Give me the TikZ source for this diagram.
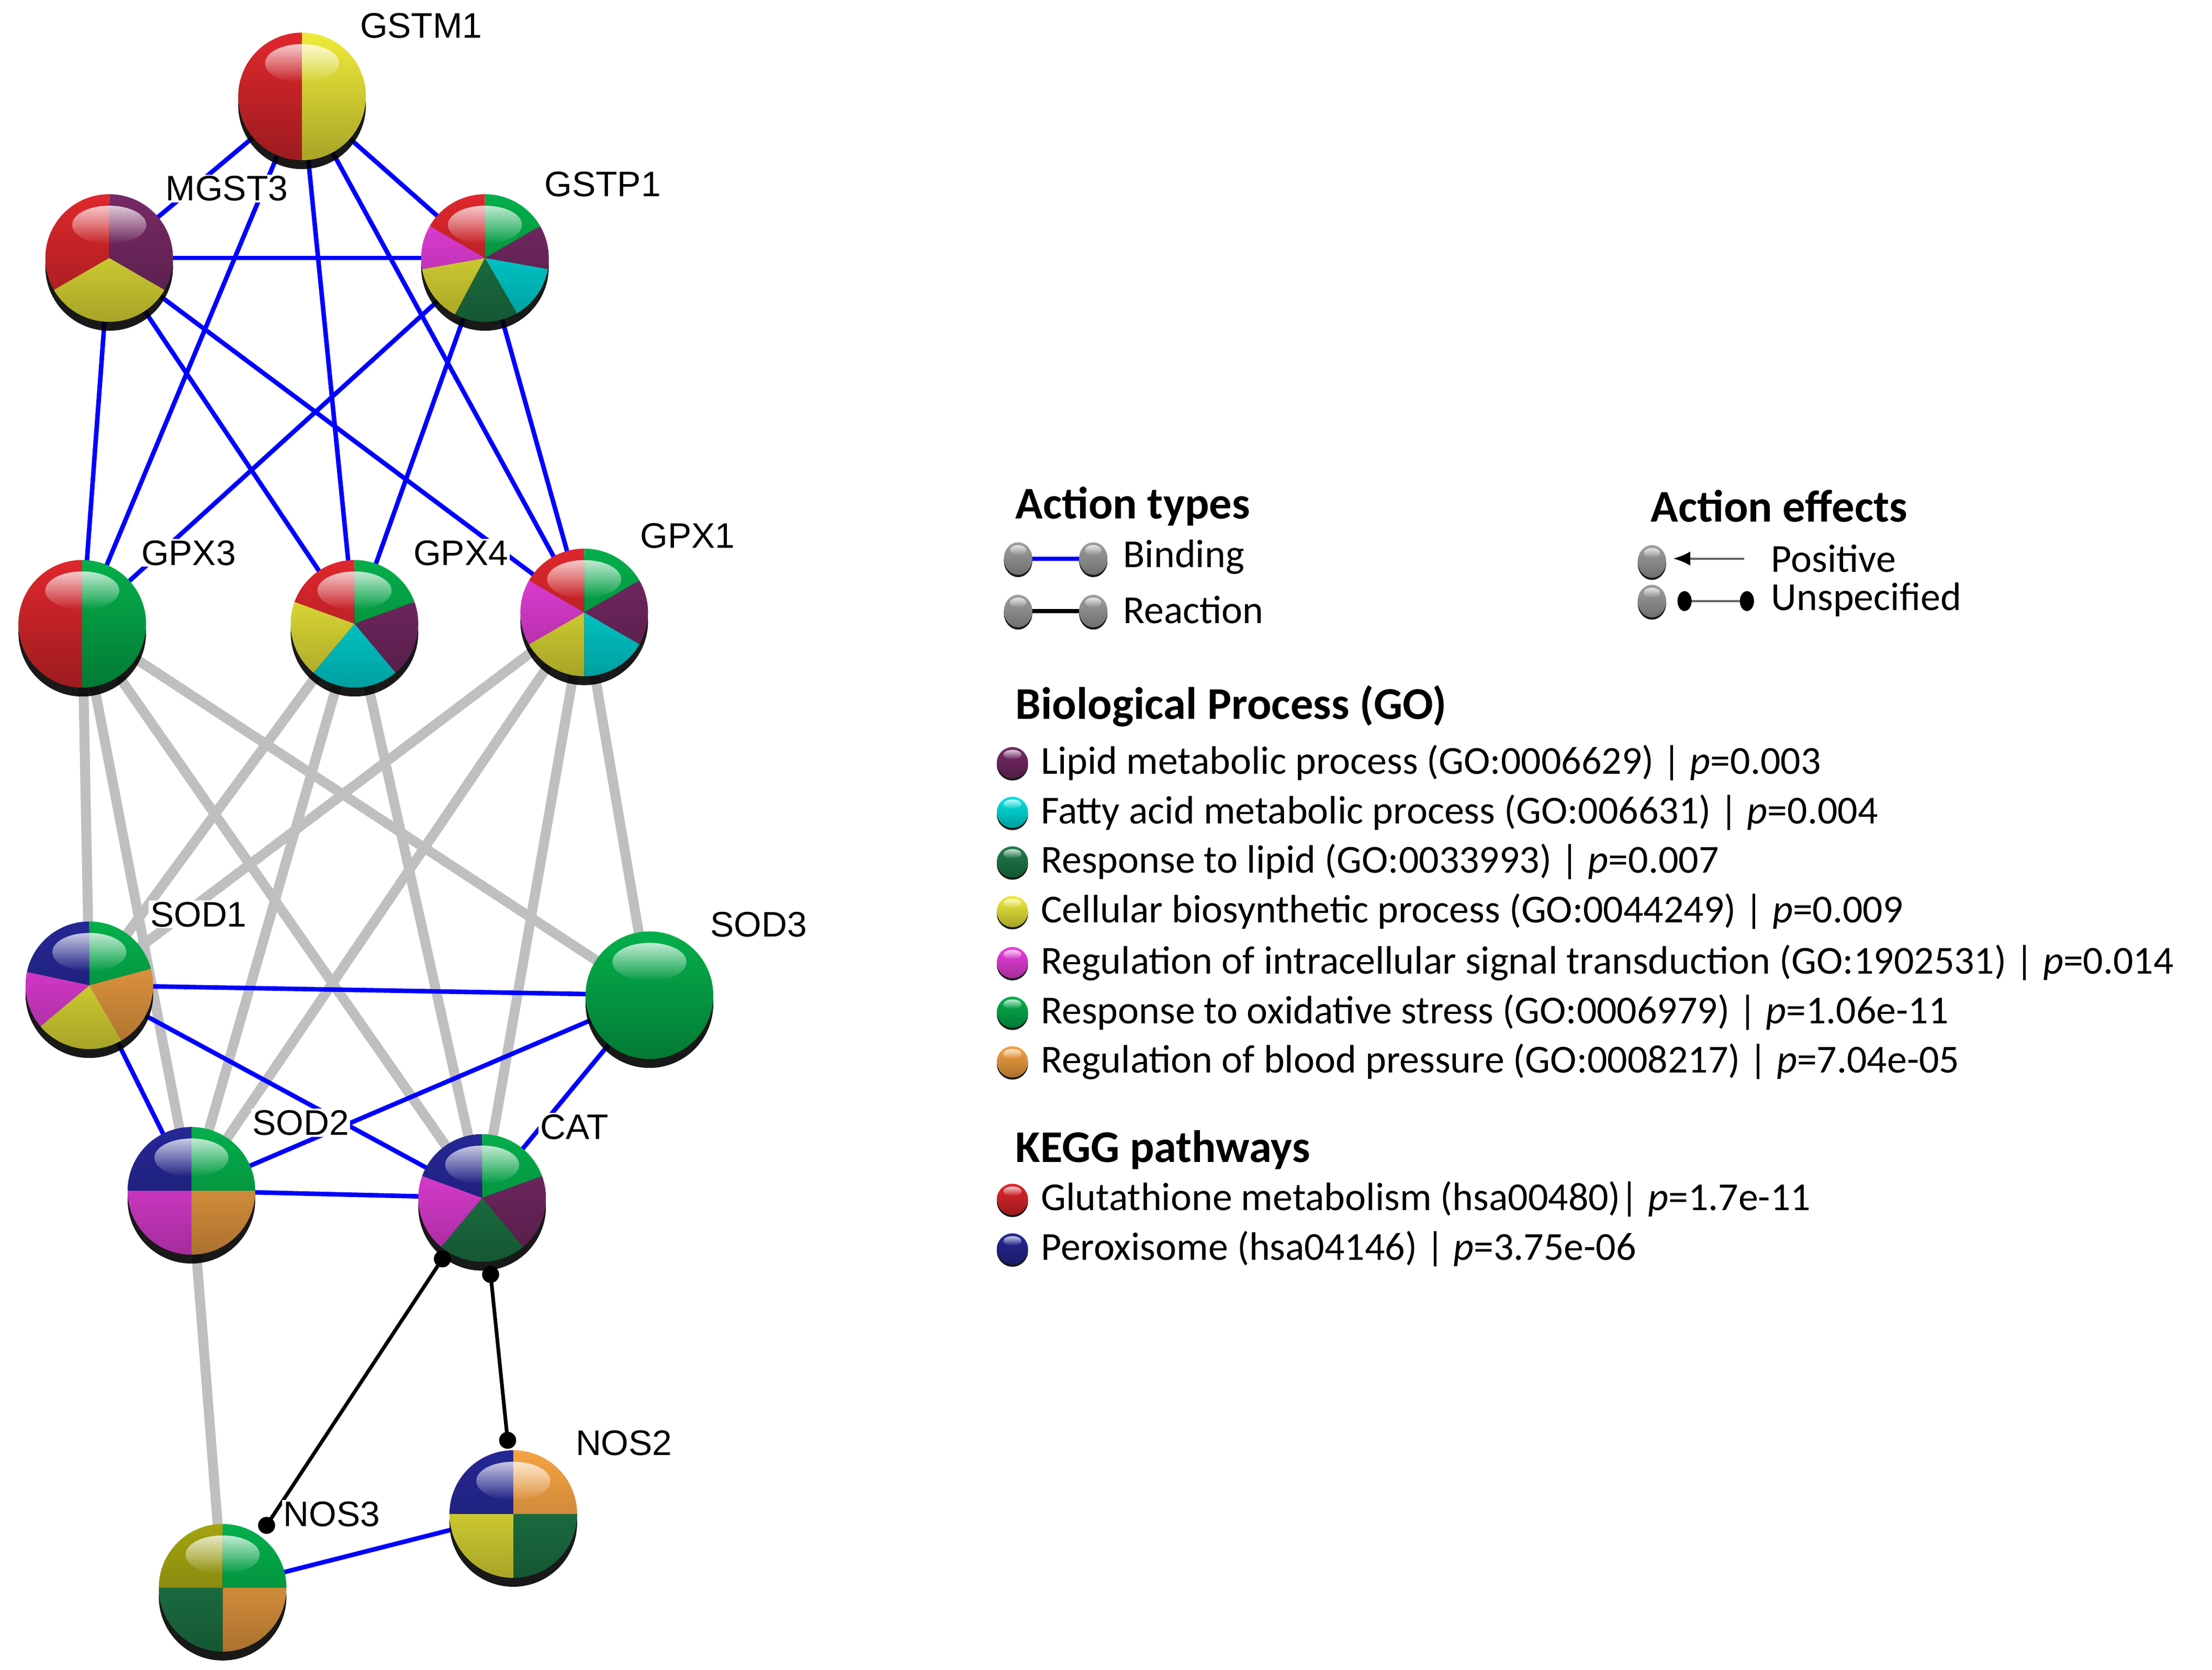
\documentclass[tikz,border=0pt]{standalone}
\usepackage{fontspec}
\setmainfont{Carlito}
\newfontfamily\arial{Liberation Sans}
\usetikzlibrary{fadings,arrows.meta}
\definecolor{cRed}{HTML}{E0282D}
\definecolor{cYel}{HTML}{F0EC3A}
\definecolor{cPur}{HTML}{782A66}
\definecolor{cCya}{HTML}{00E4E4}
\definecolor{cDgr}{HTML}{1F7E4A}
\definecolor{cMag}{HTML}{EC40E0}
\definecolor{cGrn}{HTML}{05B04C}
\definecolor{cOra}{HTML}{F6A444}
\definecolor{cNav}{HTML}{262896}
\definecolor{cOli}{HTML}{A4A412}
\definecolor{cGry}{HTML}{A0A0A0}
\pgfdeclareradialshading{edgeshade}{\pgfpointorigin}{color(0bp)=(transparent!100); color(30bp)=(transparent!100); color(50bp)=(transparent!50)}
\pgfdeclarefading{edgedark}{\pgfuseshading{edgeshade}}
\newcommand\sph[3]{%
\begin{scope}[shift={#1}]
 \fill[black,opacity=0.9] (0,-0.14*#2) circle (#2);
 \foreach \sa/\sb/\sc in {#3} \fill[\sc] (0,0) -- (\sa:#2) arc (\sa:\sb:#2) -- cycle;
 \fill[black,opacity=0.3,path fading=north] (0,0) circle (#2);
 \fill[black,path fading=edgedark] (0,0) circle (#2);
 \fill[white,opacity=0.75,path fading=south] (0,0.52*#2) ellipse (0.58*#2 and 0.3*#2);
\end{scope}}
\tikzset{lab/.style={font=\arial\fontsize{25}{28}\selectfont,fill=white,inner sep=1pt},
 bluee/.style={draw=blue,line width=3.2pt},
 greye/.style={draw=black!25,line width=7pt},
 react/.style={draw=black,line width=2.6pt},
 dotend/.style={fill=black},
 leg/.style={font=\fontsize{28}{30}\selectfont,anchor=west,inner sep=0},
 legt/.style={font=\bfseries\fontsize{32}{34}\selectfont,anchor=west,inner sep=0}}
\begin{document}
\begin{tikzpicture}[x=1pt,y=1pt]
\useasboundingbox[fill=white] (0,0) rectangle (1560,-1178);
\coordinate (GSTM1) at (213,-68);
\coordinate (MGST3) at (77,-182);
\coordinate (GSTP1) at (342,-182);
\coordinate (GPX3) at (58,-440);
\coordinate (GPX4) at (250,-440);
\coordinate (GPX1) at (412,-432);
\coordinate (SOD1) at (63,-695);
\coordinate (SOD3) at (458,-702);
\coordinate (SOD2) at (135,-840);
\coordinate (CAT) at (340,-845);
\coordinate (NOS2) at (362,-1068);
\coordinate (NOS3) at (157,-1120);
% grey edges
\foreach \u/\v in {GPX3/SOD1,GPX3/SOD2,GPX3/CAT,GPX3/SOD3,GPX4/SOD1,GPX4/SOD2,GPX4/CAT,GPX1/SOD1,GPX1/SOD2,GPX1/CAT,GPX1/SOD3,SOD2/NOS3}
  \draw[greye] (\u) -- (\v);
% blue edges
\foreach \u/\v in {GSTM1/MGST3,GSTM1/GSTP1,GSTM1/GPX3,GSTM1/GPX4,GSTM1/GPX1,MGST3/GSTP1,MGST3/GPX3,MGST3/GPX4,MGST3/GPX1,GSTP1/GPX3,GSTP1/GPX4,GSTP1/GPX1,SOD1/SOD3,SOD1/SOD2,SOD1/CAT,SOD2/SOD3,SOD2/CAT,SOD3/CAT,NOS3/NOS2}
  \draw[bluee] (\u) -- (\v);
% reaction edges
\coordinate (c1) at (312,-888); \coordinate (n3) at (188,-1076);
\coordinate (c2) at (346,-899); \coordinate (n2) at (358,-1016);
\draw[react] (c1) -- (n3); \draw[react] (c2) -- (n2);
% labels
\node[lab] at (297,-18) {GSTM1};
\node[lab] at (160,-133) {MGST3};
\node[lab] at (425,-130) {GSTP1};
\node[lab] at (133,-390) {GPX3};
\node[lab] at (325,-390) {GPX4};
\node[lab] at (485,-378) {GPX1};
\node[lab] at (140,-645) {SOD1};
\node[lab] at (535,-652) {SOD3};
\node[lab] at (212,-792) {SOD2};
\node[lab] at (405,-795) {CAT};
\node[lab] at (440,-1018) {NOS2};
\node[lab] at (234,-1068) {NOS3};
% spheres
\sph{(GSTM1)}{45}{90/270/cRed,-90/90/cYel}
\sph{(MGST3)}{45}{90/210/cRed,-30/90/cPur,210/330/cYel}
\sph{(GSTP1)}{45}{90/150/cRed,30/90/cGrn,-10/30/cPur,-60/-10/cCya,-118/-60/cDgr,190/242/cYel,150/190/cMag}
\sph{(GPX3)}{45}{90/270/cRed,-90/90/cGrn}
\sph{(GPX4)}{45}{90/160/cRed,20/90/cGrn,-50/20/cPur,-130/-50/cCya,160/230/cYel}
\sph{(GPX1)}{45}{90/150/cRed,30/90/cGrn,-30/30/cPur,-90/-30/cCya,210/270/cYel,150/210/cMag}
\sph{(SOD1)}{45}{90/168/cNav,15/90/cGrn,-60/15/cOra,-140/-60/cYel,168/220/cMag}
\sph{(SOD3)}{45}{0/360/cGrn}
\sph{(SOD2)}{45}{90/180/cNav,0/90/cGrn,-90/0/cOra,180/270/cMag}
\sph{(CAT)}{45}{90/160/cNav,20/90/cGrn,-50/20/cPur,-130/-50/cDgr,160/230/cMag}
\sph{(NOS2)}{45}{90/180/cNav,0/90/cOra,-90/0/cDgr,180/270/cYel}
\sph{(NOS3)}{45}{90/180/cOli,0/90/cGrn,-90/0/cOra,180/270/cDgr}
\fill[dotend] (c1) circle (6); \fill[dotend] (n3) circle (6);
\fill[dotend] (c2) circle (6); \fill[dotend] (n2) circle (6);
% legend: action types
\node[legt] at (716,-357) {Action types};
\coordinate (b1) at (718,-394); \coordinate (b2) at (771,-394);
\coordinate (b3) at (718,-431); \coordinate (b4) at (771,-431);
\draw[draw=blue,line width=3pt] (b1) -- (b2);
\draw[draw=black,line width=3pt] (b3) -- (b4);
\foreach \p in {b1,b2,b3,b4}{\begin{scope}[shift={(\p)},yscale=1.15]\sph{(0,0)}{10}{0/360/cGry}\end{scope}}
\node[leg] at (792,-393) {Binding};
\node[leg] at (792,-430) {Reaction};
% action effects
\node[legt] at (1164,-357) {Action effects};
\coordinate (e1) at (1165,-396); \coordinate (e2) at (1165,-424);
\coordinate (a1) at (1230,-394); \coordinate (a2) at (1180,-394);
\coordinate (d1) at (1188,-424); \coordinate (d2) at (1232,-424);
\draw[black!60,line width=1.5pt,-{Latex[length=12pt,width=10pt,black]}] (a1) -- (a2);
\draw[black!60,line width=1.5pt] (d1) -- (d2);
\fill[black] (d1) ellipse (5 and 7); \fill[black] (d2) ellipse (5 and 7);
\foreach \p in {e1,e2}{\begin{scope}[shift={(\p)},yscale=1.15]\sph{(0,0)}{10}{0/360/cGry}\end{scope}}
\node[leg] at (1249,-394) {Positive};
\node[leg] at (1249,-423) {Unspecified};
% biological process
\node[legt] at (716,-498) {Biological Process (GO)};
\foreach \yy/\cc/\tt in {538/cPur/{Lipid metabolic process (GO:0006629) | \textit{p}=0.003},
 573/cCya/{Fatty acid metabolic process (GO:006631) | \textit{p}=0.004},
 608/cDgr/{Response to lipid (GO:0033993) | \textit{p}=0.007},
 643/cYel/{Cellular biosynthetic process (GO:0044249) | \textit{p}=0.009},
 679/cMag/{Regulation of intracellular signal transduction (GO:1902531) | \textit{p}=0.014},
 714/cGrn/{Response to oxidative stress (GO:0006979) | \textit{p}=1.06e-11},
 749/cOra/{Regulation of blood pressure (GO:0008217) | \textit{p}=7.04e-05}}{
 \sph{(714,-\yy)}{11}{0/360/\cc}
 \node[leg] at (734,-\yy) {\tt};}
\node[legt] at (716,-811) {KEGG pathways};
\foreach \yy/\cc/\tt in {846/cRed/{Glutathione metabolism (hsa00480)| \textit{p}=1.7e-11},
 881/cNav/{Peroxisome (hsa04146) | \textit{p}=3.75e-06}}{
 \sph{(714,-\yy)}{11}{0/360/\cc}
 \node[leg] at (734,-\yy) {\tt};}
\end{tikzpicture}
\end{document}
